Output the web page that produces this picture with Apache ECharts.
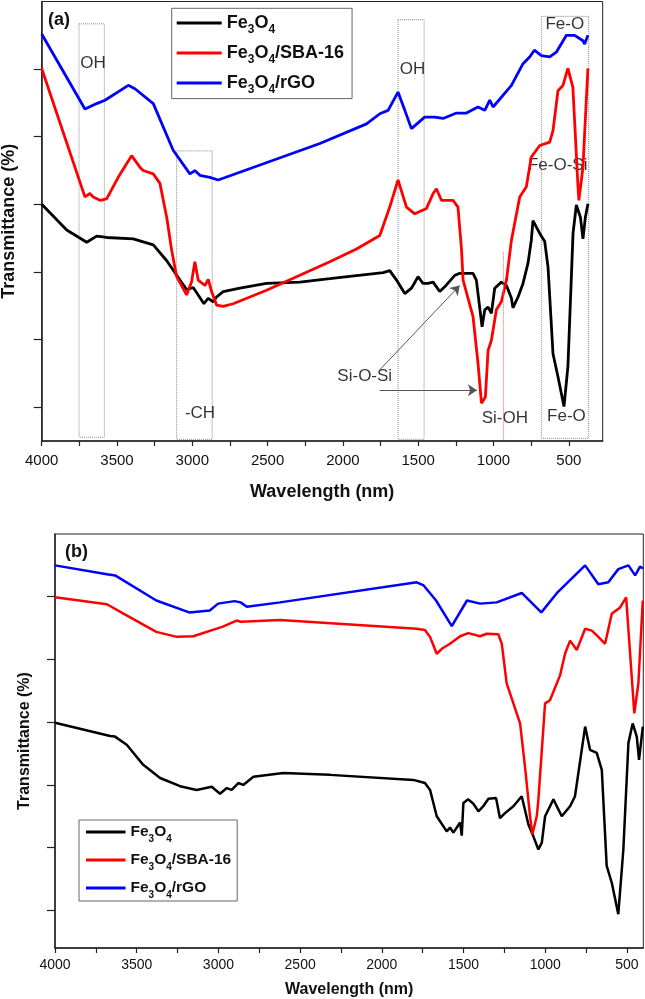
<!DOCTYPE html>
<html>
<head>
<meta charset="utf-8">
<script src="https://cdn.jsdelivr.net/npm/echarts@6.0.0/dist/echarts.min.js"></script>
<style>
  html, body { margin: 0; padding: 0; background: #fff; }
  #chart { width: 645px; height: 999px; }
</style>
</head>
<body>
<div id="chart"></div>
<script>
// series names (legend order)
const seriesNames = ['Fe3O4', 'Fe3O4/SBA-16', 'Fe3O4/rGO']
const seriesColors = ['#000000', '#ff0000', '#0000ff']

// x ticks / labels (wavenumber)
const xTicks = [4000, 3750, 3500, 3250, 3000, 2750, 2500, 2250, 2000, 1750, 1500, 1250, 1000, 750, 500]
const xLabels = [4000, 3500, 3000, 2500, 2000, 1500, 1000, 500]
const yTicksA = [5, 15, 25, 35, 45, 55]
const yTicksB = [6, 16, 26, 36, 46, 56]

// panel (a)
const aBlackX = [4000,3834,3701,3635,3569,3392,3259,3171,3082,3038,2994,2961,2923,2895,2861,2839,2795,2684,2507,2286,2087,1733,1689,1644,1589,1545,1501,1468,1435,1401,1357,1324,1257,1224,1136,1114,1092,1076,1058,1036,1014,992,948,914,881,871,837,804,771,749,738,727,693,660,638,605,572,532,506,472,450,423,406,390,373]
const aBlackY = [35.0,31.2,29.4,30.3,30.1,29.9,29.0,26.7,23.8,22.4,22.7,21.6,20.3,21.1,20.6,21.3,22.1,22.6,23.3,23.5,24.0,24.9,25.2,23.8,21.8,22.6,24.3,23.3,23.3,23.5,22.1,22.8,24.5,24.8,24.8,23.8,19.8,16.9,19.4,19.8,18.9,22.6,23.5,23.0,21.1,19.7,21.3,23.3,26.3,29.7,32.6,32.4,30.7,29.5,25.7,12.9,9.5,5.1,11.0,30.7,34.9,33.1,29.9,33.1,35.1]
const aRedX = [4000,3713,3680,3658,3613,3569,3492,3403,3348,3326,3259,3215,3170,3137,3104,3038,3005,2983,2961,2916,2894,2872,2839,2795,2729,2507,2087,1910,1755,1689,1634,1578,1523,1445,1401,1379,1346,1269,1236,1213,1202,1136,1103,1080,1054,1036,1014,981,948,914,881,826,782,749,693,627,605,572,539,506,473,439,433,406,384,373]
const aRedY = [55.1,36.1,36.6,36.1,35.6,35.8,39.0,42.2,40.5,40.0,39.5,38.1,33.1,28.2,24.3,21.6,23.5,26.5,23.8,23.0,23.9,22.1,20.1,19.9,20.3,22.3,26.5,28.4,30.4,34.6,38.6,34.6,33.6,34.4,36.6,37.3,35.6,35.6,34.6,28.5,23.8,18.4,11.5,5.6,6.5,13.4,14.9,19.4,20.6,23.8,29.7,36.1,37.6,42.0,43.7,44.2,45.9,51.8,52.6,55.1,52.3,37.6,35.6,40.5,50.4,55.1]
const aBlueX = [4000,3713,3635,3580,3425,3381,3259,3127,3016,2983,2950,2883,2828,2153,1843,1755,1700,1634,1589,1545,1457,1390,1335,1246,1180,1103,1058,1025,1003,881,804,760,729,682,627,583,516,461,406,395,373]
const aBlueY = [60.2,49.1,49.9,50.4,52.6,52.1,49.9,43.0,39.5,40.0,39.3,39.0,38.6,44.0,46.9,48.4,48.9,51.6,48.9,46.2,47.9,47.9,47.7,48.5,48.5,49.4,48.9,50.4,49.4,52.6,55.8,56.8,57.8,57.0,56.8,57.5,60.0,60.0,59.2,58.7,60.0]

// panel (b)
const bBlackX = [4000,3663,3633,3561,3460,3357,3235,3133,3041,2990,2949,2919,2878,2848,2786,2603,2317,1807,1736,1705,1664,1603,1583,1562,1521,1511,1501,1471,1440,1409,1379,1348,1301,1277,1246,1195,1144,1103,1073,1042,1021,1001,950,899,848,818,756,726,685,654,624,593,553,522,491,465,440,426,403]
const bBlackY = [35.9,33.8,33.7,32.4,29.2,27.1,25.8,25.2,25.7,24.6,25.5,25.2,26.3,26.0,27.3,27.9,27.6,26.8,26.3,25.2,21.0,18.6,19.2,18.4,20.0,17.9,23.1,23.7,23.0,21.8,22.6,23.8,23.9,20.7,21.5,22.6,24.2,19.7,17.8,15.7,16.8,21.0,23.7,21.0,22.6,24.2,35.3,31.6,31.1,28.4,13.1,10.4,5.4,15.7,32.7,35.8,33.7,30.0,35.3]
const bRedX = [4000,3682,3581,3380,3254,3154,2977,2889,2864,2623,1786,1736,1705,1664,1633,1583,1521,1471,1399,1358,1287,1266,1236,1195,1154,1124,1093,1079,1052,1042,1001,971,909,879,848,807,756,715,675,634,593,542,505,475,455,430,403]
const bRedY = [55.9,54.8,53.3,50.4,49.6,49.7,51.2,52.2,52.0,52.3,50.9,50.7,49.6,46.9,47.7,48.5,49.7,50.2,49.7,50.1,50.0,48.5,42.2,39.0,35.8,28.9,21.0,18.1,21.0,23.7,39.0,39.5,43.5,46.9,49.0,47.5,50.9,50.6,49.6,48.5,53.3,54.3,55.9,44.8,37.4,42.2,55.4]
const bBlueX = [4000,3682,3632,3380,3179,3053,3002,2901,2864,2826,2623,1786,1744,1668,1572,1479,1399,1297,1144,1024,928,756,675,614,553,491,450,420,402]
const bBlueY = [61.0,59.6,59.4,55.4,53.5,53.8,54.9,55.3,55.1,54.4,55.1,58.3,57.8,55.4,51.3,55.4,54.9,55.1,56.6,53.5,56.6,61.0,58.0,58.3,60.4,61.0,59.4,60.8,60.5]

// panel (a) annotations
const annoText = ['OH', '-CH', 'OH', 'Fe-O', 'Fe-O-Si', 'Si-O-Si', 'Si-OH', 'Fe-O']
const annoX = [3659, 2949, 1538, 527, 574, 1855, 925, 516]
const annoY = [55.8, 4.1, 54.9, 61.7, 40.8, 9.5, 3.35, 3.6]
// dotted boxes: [x1, x2, yBottom, yTop]
const boxX1 = [3752, 3104, 1634, 682]
const boxX2 = [3584, 2868, 1461, 368]
const boxYBottom = [0.55, 0.25, 0.25, 0.4]
const boxYTop = [61.7, 42.9, 62.3, 62.8]
// Si-OH dotted marker
const siohX = 937
const siohY = [0.25, 28]
// Si-O-Si arrows: [fromX, fromY, toX, toY]
const arrows = [[1756, 10.5, 1225, 23.0], [1756, 7.5, 1110, 7.5]]

const FONT = '"Liberation Sans", Arial, sans-serif'
const zip = (xs, ys) => xs.map((x, i) => [x, ys[i]])

// Fe3O4 -> Fe{3}O{4} with lowered digits
const legendText = (name) => {
  const rest = name.slice(5)
  return '{n|Fe}{s|3}{n|O}{s|4}' + (rest ? '{n|' + rest + '}' : '')
}

const makeLegend = (left, top, itemWidth, itemGap, padding, size, lh) => ({
  orient: 'vertical',
  left, top, itemWidth, itemHeight: 3, itemGap, padding,
  icon: 'rect',
  borderColor: '#666', borderWidth: 1,
  data: seriesNames,
  formatter: legendText,
  selectedMode: false,
  textStyle: {
    rich: {
      n: { fontSize: size, fontWeight: 'bold', fontFamily: FONT, color: '#111', lineHeight: lh },
      s: { fontSize: Math.round(size * 0.66), fontWeight: 'bold', fontFamily: FONT, color: '#111', verticalAlign: 'bottom' }
    }
  }
})

const makeX = (gridIndex, min, fontSize, nameSize, nameGap, margin) => ({
  type: 'value', gridIndex, min, max: 4000, inverse: true,
  name: 'Wavelength (nm)', nameLocation: 'middle', nameGap,
  nameTextStyle: { fontSize: nameSize, fontWeight: 'bold', color: '#111', fontFamily: FONT },
  axisLine: { show: true, lineStyle: { color: '#222', width: 1.5 } },
  axisTick: { show: true, length: 5, customValues: xTicks, lineStyle: { color: '#222', width: 1.2 } },
  axisLabel: { customValues: xLabels, fontSize, margin, color: '#111', fontFamily: FONT, formatter: (v) => String(v) },
  splitLine: { show: false }
})

const makeY = (gridIndex, max, ticks, nameSize, nameGap) => ({
  type: 'value', gridIndex, min: 0, max,
  name: 'Transmittance (%)', nameLocation: 'middle', nameGap, nameRotate: 90,
  nameTextStyle: { fontSize: nameSize, fontWeight: 'bold', color: '#111', fontFamily: FONT },
  axisLine: { show: true, lineStyle: { color: '#222', width: 1.5 } },
  axisTick: { show: true, length: 8, customValues: ticks, lineStyle: { color: '#222', width: 1.2 } },
  axisLabel: { show: false },
  splitLine: { show: false }
})

const makeLine = (name, color, data, idx, width) => ({
  name, type: 'line', data,
  xAxisIndex: idx, yAxisIndex: idx,
  showSymbol: false, symbol: 'none',
  lineStyle: { color, width },
  itemStyle: { color },
  z: 3, silent: true
})

const chart = echarts.init(document.getElementById('chart'))

chart.setOption({
  animation: false,
  backgroundColor: '#fff',
  title: [
    { text: '(a)', left: 43, top: 6, textStyle: { fontSize: 18, fontWeight: 'bold', color: '#111', fontFamily: FONT } },
    { text: '(b)', left: 60, top: 538, textStyle: { fontSize: 18, fontWeight: 'bold', color: '#111', fontFamily: FONT } }
  ],
  legend: [
    makeLegend(171.7, 8.3, 45, 8, [5.7, 8, 2.6, 5], 18, 26),
    makeLegend(79, 820, 39.5, 8, [4, 6, 1, 7], 15.5, 24)
  ],
  grid: [
    { left: 41.7, right: 42.3, top: 1.5, height: 439.5, outerBoundsMode: 'none', show: true, borderColor: '#222', borderWidth: 1 },
    { left: 55, right: 1.7, top: 534, height: 414, outerBoundsMode: 'none', show: true, borderColor: '#222', borderWidth: 1 }
  ],
  xAxis: [makeX(0, 275, 15, 18, 42, 12), makeX(1, 400, 14, 16, 34, 10)],
  yAxis: [makeY(0, 65, yTicksA, 18, 24), makeY(1, 66, yTicksB, 16, 22)],
  series: [
    makeLine(seriesNames[0], seriesColors[0], zip(aBlackX, aBlackY), 0, 2.8),
    makeLine(seriesNames[1], seriesColors[1], zip(aRedX, aRedY), 0, 2.8),
    makeLine(seriesNames[2], seriesColors[2], zip(aBlueX, aBlueY), 0, 2.8),
    makeLine(seriesNames[0], seriesColors[0], zip(bBlackX, bBlackY), 1, 2.5),
    makeLine(seriesNames[1], seriesColors[1], zip(bRedX, bRedY), 1, 2.5),
    makeLine(seriesNames[2], seriesColors[2], zip(bBlueX, bBlueY), 1, 2.5),
    {
      // peak labels, dotted boxes and arrows for panel (a)
      name: 'annotations', type: 'scatter', xAxisIndex: 0, yAxisIndex: 0,
      data: zip(annoX, annoY), symbolSize: 0, z: 1, silent: true,
      itemStyle: { color: 'transparent' },
      label: {
        show: true, position: 'inside', color: '#000', fontSize: 17, fontFamily: FONT,
        textBorderWidth: 0,
        formatter: (p) => annoText[p.dataIndex]
      },
      markArea: {
        silent: true,
        itemStyle: { color: 'rgba(0,0,0,0)', borderColor: '#888', borderWidth: 1, borderType: 'dotted' },
        data: boxX1.map((x, i) => [
          { coord: [x, boxYTop[i]] },
          { coord: [boxX2[i], boxYBottom[i]] }
        ])
      },
      markLine: {
        silent: true,
        symbol: ['none', 'arrow'], symbolSize: 9,
        label: { show: false },
        lineStyle: { color: '#555', width: 1, type: 'solid' },
        data: [
          ...arrows.map((a) => [{ coord: [a[0], a[1]] }, { coord: [a[2], a[3]] }]),
          [
            { coord: [siohX, siohY[0]], symbol: 'none', lineStyle: { color: '#e07070', type: 'dotted', width: 1 } },
            { coord: [siohX, siohY[1]], symbol: 'none' }
          ]
        ]
      }
    }
  ]
})
</script>
</body>
</html>
